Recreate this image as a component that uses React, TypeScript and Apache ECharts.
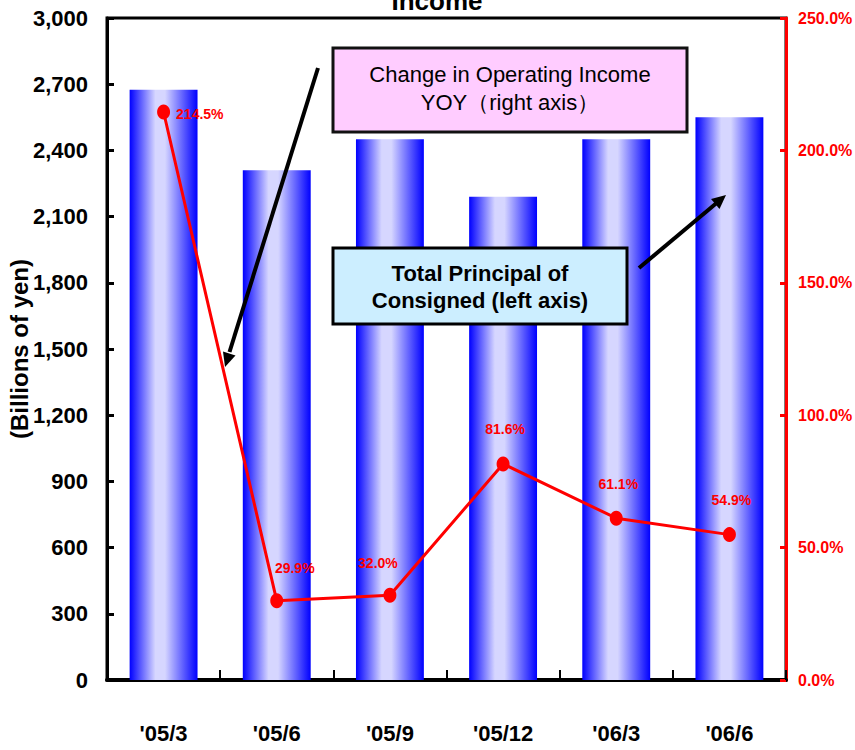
import React, { useEffect, useRef } from "react";
import * as echarts from "echarts";

const categories = ["'05/3", "'05/6", "'05/9", "'05/12", "'06/3", "'06/6"];
const principalValues = [2675, 2310, 2450, 2190, 2450, 2550];
const yoyValues = [214.5, 29.9, 32.0, 81.6, 61.1, 54.9];
const leftTicks = { min: 0, max: 3000, interval: 300 };
const rightTicks = { min: 0, max: 250, interval: 50 };

const SANS = "'Liberation Sans', Arial, sans-serif";

export default function App() {
  const ref = useRef<HTMLDivElement>(null);
  useEffect(() => {
    document.body.style.margin = "0";
    if (!ref.current) return;
    const chart = echarts.init(ref.current, null, { renderer: "svg" });
    const barGradient = new echarts.graphic.LinearGradient(0, 0, 1, 0, [
      { offset: 0, color: "#0000ff" },
      { offset: 0.38, color: "#d6d6ff" },
      { offset: 0.52, color: "#d6d6ff" },
      { offset: 1, color: "#0000ff" },
    ]);
    const labelCfg: any[] = [
      { position: "right", distance: 6, offset: [0, 2] },
      { position: "top", distance: 18, offset: [18, 0] },
      { position: "top", distance: 18, offset: [-12, 0] },
      { position: "top", distance: 20, offset: [2, 0] },
      { position: "top", distance: 20, offset: [2, 0] },
      { position: "top", distance: 20, offset: [2, 0] },
    ];
    const option: any = {
      animation: false,
      grid: {
        left: 107,
        right: 69,
        top: 18,
        bottom: 70,
        containLabel: false,
        outerBoundsMode: "none",
        show: true,
        borderColor: "#000",
        borderWidth: 3,
        backgroundColor: "transparent",
      },
      xAxis: {
        type: "category",
        data: categories,
        axisLine: { show: true, lineStyle: { color: "#000", width: 4 } },
        axisTick: { show: true, inside: true, length: 10, lineStyle: { color: "#000", width: 2 } },
        axisLabel: {
          interval: 0,
          margin: 42,
          fontFamily: SANS,
          fontWeight: "bold",
          fontSize: 22,
          color: "#000",
        },
        splitLine: { show: false },
      },
      yAxis: [
        {
          type: "value",
          min: leftTicks.min,
          max: leftTicks.max,
          interval: leftTicks.interval,
          name: "(Billions of yen)",
          nameLocation: "middle",
          nameRotate: 90,
          nameGap: 76,
          nameMoveOverlap: false,
          nameTextStyle: { fontFamily: SANS, fontWeight: "bold", fontSize: 24, color: "#000" },
          axisLine: { show: true, lineStyle: { color: "#000", width: 3 } },
          axisTick: { show: true, inside: true, length: 7, lineStyle: { color: "#000", width: 3 } },
          axisLabel: {
            margin: 19,
            fontFamily: SANS,
            fontWeight: "bold",
            fontSize: 22,
            color: "#000",
            formatter: (v: number) => v.toLocaleString("en-US"),
          },
          splitLine: { show: false },
        },
        {
          type: "value",
          position: "right",
          min: rightTicks.min,
          max: rightTicks.max,
          interval: rightTicks.interval,
          axisLine: { show: true, lineStyle: { color: "#ff0000", width: 3 } },
          axisTick: { show: true, inside: true, length: 6, lineStyle: { color: "#ff0000", width: 3 } },
          axisLabel: {
            margin: 12,
            fontFamily: SANS,
            fontWeight: "bold",
            fontSize: 16,
            color: "#ff0000",
            formatter: (v: number) => v.toFixed(1) + "%",
          },
          splitLine: { show: false },
        },
      ],
      series: [
        {
          type: "bar",
          data: principalValues,
          yAxisIndex: 0,
          barCategoryGap: "40%",
          itemStyle: { color: barGradient },
        },
        {
          type: "line",
          yAxisIndex: 1,
          data: yoyValues.map((v, i) => ({
            value: v,
            label: labelCfg[i],
          })),
          symbol: "circle",
          symbolSize: [13, 15],
          lineStyle: { color: "#ff0000", width: 3 },
          itemStyle: { color: "#ff0000" },
          label: {
            show: true,
            fontFamily: SANS,
            fontWeight: "bold",
            fontSize: 14,
            color: "#ff0000",
            formatter: (p: any) => p.value.toFixed(1) + "%",
          },
          z: 5,
        },
      ],
      graphic: [
        {
          type: "text",
          x: 437,
          y: 1,
          style: {
            text: "Income",
            fontFamily: SANS,
            fontWeight: "bold",
            fontSize: 26,
            fill: "#000",
            textAlign: "center",
            textVerticalAlign: "middle",
          },
        },
        {
          type: "rect",
          shape: { x: 333, y: 48, width: 354, height: 84 },
          style: { fill: "#ffccff", stroke: "#111", lineWidth: 3 },
          z: 10,
        },
        {
          type: "text",
          x: 510,
          y: 74,
          z: 11,
          style: {
            text: "Change in Operating Income",
            fontFamily: SANS,
            fontSize: 22,
            fill: "#000",
            textAlign: "center",
            textVerticalAlign: "middle",
          },
        },
        {
          type: "text",
          x: 510,
          y: 102,
          z: 11,
          style: {
            text: "YOY（right axis）",
            fontFamily: SANS,
            fontSize: 22,
            fill: "#000",
            textAlign: "center",
            textVerticalAlign: "middle",
          },
        },
        {
          type: "rect",
          shape: { x: 333, y: 248, width: 294, height: 76 },
          style: { fill: "#cceeff", stroke: "#000", lineWidth: 3 },
          z: 10,
        },
        {
          type: "text",
          x: 480,
          y: 273,
          z: 11,
          style: {
            text: "Total Principal of",
            fontFamily: SANS,
            fontWeight: "bold",
            fontSize: 22,
            fill: "#000",
            textAlign: "center",
            textVerticalAlign: "middle",
          },
        },
        {
          type: "text",
          x: 480,
          y: 300,
          z: 11,
          style: {
            text: "Consigned (left axis)",
            fontFamily: SANS,
            fontWeight: "bold",
            fontSize: 22,
            fill: "#000",
            textAlign: "center",
            textVerticalAlign: "middle",
          },
        },
        {
          type: "line",
          z: 12,
          shape: { x1: 318, y1: 68, x2: 229.5, y2: 352 },
          style: { stroke: "#000", lineWidth: 4 },
        },
        {
          type: "polygon",
          z: 12,
          shape: { points: [[225, 367], [235.5, 355.5], [223, 351.5]] },
          style: { fill: "#000" },
        },
        {
          type: "line",
          z: 12,
          shape: { x1: 639, y1: 268, x2: 716, y2: 203.5 },
          style: { stroke: "#000", lineWidth: 4 },
        },
        {
          type: "polygon",
          z: 12,
          shape: { points: [[726, 195], [719.5, 209], [711, 199]] },
          style: { fill: "#000" },
        },
      ],
    };
    chart.setOption(option);
    return () => chart.dispose();
  }, []);
  return <div ref={ref} style={{ width: 855, height: 750 }} />;
}
